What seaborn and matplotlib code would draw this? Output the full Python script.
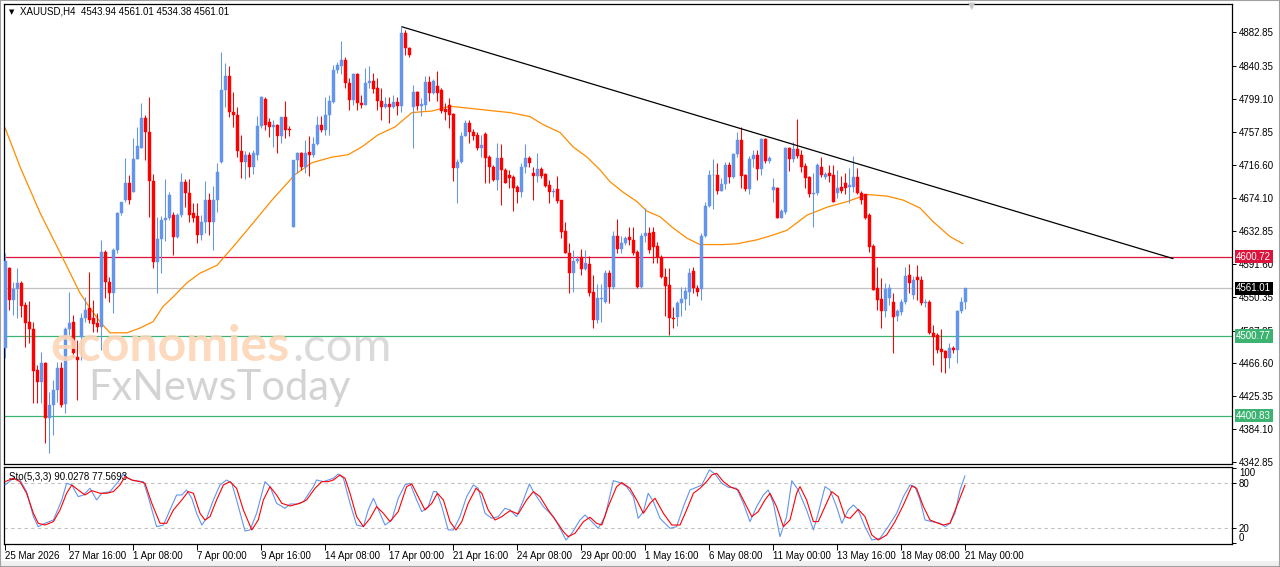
import numpy as np
import pandas as pd
import matplotlib
matplotlib.use("Agg")
import matplotlib.pyplot as plt
from matplotlib.patches import Rectangle
import seaborn as sns

# XAUUSD H4 candles (index 0 = 25 Mar 2026 00:00)
opens = [4486, 4587, 4546, 4560, 4568, 4540, 4519, 4510, 4458, 4443,
         4467, 4398, 4414, 4433, 4461, 4416, 4510, 4518, 4474, 4500,
         4524, 4536, 4524, 4517, 4512, 4607, 4569, 4555, 4609, 4656,
         4672, 4694, 4682, 4724, 4738, 4775, 4758, 4696, 4594, 4623,
         4647, 4650, 4653, 4626, 4653, 4695, 4681, 4656, 4652, 4628,
         4644, 4672, 4645, 4672, 4720, 4810, 4828, 4783, 4779, 4734,
         4720, 4729, 4714, 4729, 4765, 4799, 4770, 4764, 4767, 4752,
         4777, 4762, 4638, 4722, 4731, 4714, 4732, 4729, 4743, 4767,
         4760, 4779, 4795, 4836, 4840, 4848, 4819, 4798, 4830, 4794,
         4791, 4819, 4822, 4813, 4796, 4789, 4793, 4789, 4795, 4790,
         4882, 4863, 4789, 4808, 4790, 4792, 4820, 4807, 4815, 4811,
         4786, 4791, 4780, 4712, 4720, 4753, 4769, 4757, 4754, 4738,
         4755, 4726, 4714, 4697, 4725, 4710, 4704, 4701, 4689, 4682,
         4713, 4725, 4706, 4702, 4711, 4705, 4691, 4682, 4686, 4672,
         4633, 4606, 4580, 4595, 4600, 4585, 4592, 4556, 4521, 4548,
         4544, 4580, 4563, 4627, 4611, 4618, 4626, 4622, 4607, 4563,
         4627, 4631, 4632, 4614, 4600, 4575, 4565, 4524, 4525, 4543,
         4548, 4556, 4583, 4561, 4560, 4627, 4665, 4703, 4704, 4684,
         4692, 4716, 4701, 4730, 4748, 4703, 4686, 4724, 4729, 4711,
         4749, 4721, 4685, 4687, 4650, 4657, 4737, 4724, 4736, 4729,
         4715, 4701, 4680, 4681, 4714, 4701, 4706, 4703, 4681, 4689,
         4693, 4688, 4688, 4701, 4681, 4679, 4653, 4614, 4561, 4548,
         4533, 4549, 4544, 4526, 4531, 4544, 4578, 4553, 4575, 4572,
         4543, 4544, 4505, 4502, 4485, 4482, 4473, 4486, 4484, 4533,
         4543.94]
highs = [4605, 4588, 4569, 4587, 4570, 4544, 4545, 4519, 4465, 4481,
         4468, 4431, 4446, 4468, 4468, 4512, 4556, 4528, 4496, 4530,
         4550, 4582, 4546, 4530, 4622, 4609, 4575, 4612, 4657, 4670,
         4725, 4704, 4750, 4764, 4794, 4779, 4802, 4705, 4651, 4652,
         4698, 4682, 4657, 4656, 4706, 4699, 4699, 4668, 4668, 4653,
         4696, 4681, 4690, 4719, 4858, 4845, 4841, 4808, 4789, 4754,
         4734, 4733, 4735, 4778, 4803, 4801, 4775, 4773, 4768, 4777,
         4796, 4765, 4722, 4733, 4733, 4748, 4752, 4751, 4778, 4778,
         4802, 4804, 4842, 4846, 4872, 4852, 4826, 4832, 4832, 4804,
         4838, 4840, 4832, 4825, 4813, 4802, 4802, 4804, 4802, 4890,
         4886, 4865, 4817, 4809, 4800, 4828, 4828, 4824, 4834, 4813,
         4794, 4800, 4782, 4724, 4757, 4773, 4773, 4762, 4757, 4754,
         4757, 4729, 4716, 4744, 4743, 4712, 4710, 4704, 4691, 4719,
         4742, 4727, 4714, 4731, 4713, 4706, 4697, 4687, 4702, 4672,
         4645, 4618, 4609, 4602, 4611, 4609, 4601, 4578, 4566, 4566,
         4584, 4584, 4633, 4648, 4627, 4627, 4638, 4638, 4609, 4631,
         4662, 4638, 4638, 4619, 4603, 4587, 4587, 4538, 4545, 4563,
         4563, 4587, 4588, 4565, 4631, 4669, 4710, 4724, 4719, 4700,
         4720, 4720, 4731, 4758, 4764, 4705, 4727, 4735, 4735, 4750,
         4750, 4728, 4700, 4689, 4661, 4739, 4739, 4745, 4774, 4735,
         4719, 4702, 4706, 4719, 4726, 4707, 4716, 4716, 4710, 4702,
         4706, 4712, 4727, 4712, 4684, 4679, 4656, 4617, 4588, 4574,
         4568, 4566, 4555, 4535, 4548, 4588, 4592, 4576, 4590, 4576,
         4548, 4546, 4515, 4505, 4510, 4483, 4492, 4488, 4534, 4550,
         4561.01]
lows = [4473, 4534, 4528, 4524, 4525, 4487, 4492, 4417, 4417, 4417,
        4366, 4354, 4376, 4418, 4412, 4404, 4502, 4474, 4420, 4471,
        4519, 4517, 4506, 4506, 4483, 4549, 4544, 4530, 4605, 4653,
        4670, 4667, 4682, 4724, 4738, 4723, 4651, 4587, 4555, 4580,
        4620, 4647, 4603, 4624, 4651, 4663, 4645, 4645, 4618, 4622,
        4631, 4628, 4609, 4657, 4719, 4789, 4777, 4764, 4726, 4700,
        4699, 4701, 4705, 4723, 4763, 4760, 4751, 4739, 4731, 4744,
        4750, 4752, 4638, 4706, 4710, 4706, 4702, 4726, 4741, 4758,
        4754, 4754, 4794, 4832, 4830, 4813, 4785, 4792, 4785, 4788,
        4791, 4813, 4807, 4785, 4773, 4788, 4769, 4788, 4779, 4783,
        4855, 4852, 4738, 4785, 4778, 4785, 4796, 4805, 4796, 4782,
        4773, 4763, 4696, 4668, 4718, 4752, 4744, 4748, 4735, 4726,
        4694, 4694, 4696, 4685, 4666, 4694, 4687, 4658, 4668, 4676,
        4706, 4713, 4672, 4695, 4700, 4689, 4668, 4676, 4668, 4624,
        4606, 4555, 4556, 4593, 4578, 4584, 4551, 4511, 4517, 4519,
        4543, 4543, 4560, 4606, 4606, 4616, 4616, 4603, 4561, 4561,
        4619, 4606, 4593, 4593, 4574, 4526, 4502, 4511, 4514, 4526,
        4534, 4540, 4555, 4551, 4546, 4626, 4663, 4661, 4680, 4684,
        4686, 4694, 4700, 4726, 4687, 4684, 4679, 4714, 4697, 4704,
        4718, 4718, 4669, 4649, 4649, 4655, 4709, 4720, 4725, 4707,
        4687, 4676, 4638, 4678, 4701, 4699, 4695, 4669, 4675, 4681,
        4680, 4668, 4682, 4679, 4667, 4648, 4607, 4559, 4534, 4511,
        4525, 4540, 4480, 4520, 4528, 4541, 4555, 4548, 4546, 4540,
        4538, 4503, 4465, 4480, 4456, 4455, 4461, 4480, 4467, 4530,
        4534.38]
closes = [4595, 4546, 4560, 4568, 4539, 4517, 4510, 4457, 4443, 4467,
          4398, 4414, 4433, 4461, 4414, 4510, 4517, 4479, 4471, 4524,
          4534, 4521, 4516, 4512, 4607, 4569, 4555, 4609, 4656, 4670,
          4694, 4672, 4724, 4740, 4775, 4758, 4696, 4594, 4623, 4647,
          4650, 4678, 4626, 4653, 4695, 4681, 4653, 4650, 4628, 4644,
          4672, 4645, 4672, 4707, 4810, 4828, 4783, 4779, 4734, 4720,
          4729, 4714, 4731, 4765, 4801, 4767, 4764, 4767, 4752, 4777,
          4760, 4760, 4722, 4731, 4714, 4731, 4729, 4743, 4767, 4760,
          4779, 4796, 4836, 4842, 4848, 4819, 4798, 4830, 4794, 4791,
          4819, 4822, 4812, 4796, 4789, 4793, 4789, 4795, 4790, 4882,
          4863, 4855, 4808, 4790, 4793, 4820, 4807, 4822, 4807, 4784,
          4783, 4779, 4712, 4720, 4753, 4769, 4757, 4753, 4738, 4741,
          4725, 4714, 4697, 4725, 4710, 4694, 4700, 4687, 4682, 4713,
          4725, 4719, 4702, 4711, 4702, 4690, 4682, 4683, 4671, 4632,
          4606, 4580, 4595, 4598, 4585, 4593, 4555, 4521, 4549, 4549,
          4580, 4563, 4627, 4611, 4618, 4624, 4622, 4606, 4563, 4627,
          4631, 4609, 4613, 4600, 4575, 4564, 4524, 4522, 4543, 4548,
          4558, 4580, 4561, 4556, 4627, 4665, 4704, 4704, 4684, 4692,
          4716, 4701, 4730, 4748, 4702, 4686, 4724, 4729, 4711, 4749,
          4721, 4725, 4689, 4650, 4658, 4737, 4724, 4736, 4728, 4714,
          4700, 4679, 4681, 4716, 4703, 4705, 4702, 4669, 4687, 4684,
          4687, 4691, 4701, 4681, 4672, 4650, 4613, 4559, 4546, 4533,
          4560, 4561, 4525, 4532, 4544, 4577, 4568, 4572, 4572, 4543,
          4544, 4505, 4500, 4483, 4481, 4473, 4486, 4484, 4533, 4544,
          4561.01]

# moving average (orange), sampled along the curve: (candle index, price)
ma_pts = [(0, 4763), (3.75, 4714), (8.75, 4656), (13.75, 4606), (18.75, 4555),
          (21.25, 4536), (23.75, 4519), (26.25, 4505), (30.5, 4505), (33.75, 4511),
          (37, 4519), (39.5, 4538), (42, 4550), (45.5, 4568), (48.75, 4580),
          (53, 4590), (57, 4613), (60, 4631), (62, 4643), (66.75, 4672),
          (72.5, 4704), (76.75, 4719), (81.75, 4726), (85.75, 4729), (89.25, 4739),
          (93.25, 4754), (97.5, 4764), (101.75, 4782), (104.25, 4783), (106.75, 4784),
          (111.25, 4790), (115, 4788), (122.5, 4784), (126.25, 4782), (131.25, 4777),
          (134.5, 4767), (138.75, 4757), (142, 4739), (145.5, 4726), (148.75, 4710),
          (151.25, 4695), (154.5, 4682), (158, 4670), (160.5, 4658), (163.75, 4651),
          (167, 4637), (170.5, 4624), (173.75, 4616), (179.5, 4616), (183, 4617),
          (188, 4622), (192, 4628), (195.5, 4634), (200.5, 4653), (205.5, 4663),
          (210.5, 4670), (215.5, 4679), (220.5, 4677), (224.5, 4672), (228.75, 4662),
          (232, 4645), (236.25, 4626), (239.5, 4617)]

# descending trendline end points (candle index, price)
trend_x = [99.2, 292]
trend_y = [4890, 4598.4]

# horizontal levels: price, line colour, label box colour
level_prices = [4600.72, 4561.01, 4500.77, 4400.83]
level_colors = ['#DC143C', '#C0C0C0', '#3CB371', '#3CB371']
level_boxes = ['#DC143C', '#000000', '#3CB371', '#3CB371']

price_ticks = [4882.85, 4840.35, 4799.10, 4757.85, 4716.60, 4674.10, 4632.85,
               4591.60, 4550.35, 4507.85, 4466.60, 4425.35, 4384.10, 4342.85]

# Stochastic(5,3,3): main (blue) and signal (red), sampled (candle index, value)
sto_main = [(0, 77.8), (2.1, 86.7), (3.75, 84.4), (5.4, 68.9), (7.1, 35.6), (8.3, 22.2),
            (9.6, 25.8), (12.1, 31.1), (14.2, 57.8), (15.4, 80), (16.7, 77.8), (18.3, 62.2),
            (19.6, 64.4), (21.25, 73.3), (22.9, 57.8), (24.2, 66.7), (26.25, 68.9), (28.3, 82.2),
            (29.6, 92.4), (30.8, 86.7), (32.1, 83.5), (34.6, 82.2), (35.8, 62.2), (37.9, 22.2),
            (39.6, 24.4), (41.25, 44.4), (42.9, 64.4), (44.2, 64.4), (45.4, 71.1), (46.7, 60),
            (47.9, 40), (49.2, 24.4), (50.4, 33.3), (52.1, 57.8), (53.75, 77.8), (55.4, 84.4),
            (56.7, 80), (57.9, 57.8), (60, 16.4), (61.25, 17.8), (62.9, 40), (65, 82.2),
            (66.25, 75.5), (67.9, 53.3), (70, 46.7), (71.25, 52.4), (72.9, 52.4), (74.6, 55.5),
            (77.1, 75.5), (77.9, 84.4), (79.6, 82.2), (82.1, 86.7), (83.3, 92.4), (84.6, 86.7),
            (86.25, 53.3), (87.9, 24.4), (89.6, 22.2), (90.8, 44.4), (92.1, 60), (93.75, 40),
            (95, 24.4), (96.7, 31.1), (98.3, 60), (100, 77.8), (101.25, 80), (102.9, 57.8),
            (104.2, 42.2), (105.8, 48.9), (107.1, 68.9), (107.9, 68.9), (109.2, 48.9), (110.8, 17.8),
            (112.1, 17.8), (113.75, 35.6), (115.4, 62.2), (117.1, 77.8), (118.3, 73.3), (120, 40),
            (121.7, 33.3), (123.3, 35.6), (125, 46.7), (126.25, 44.4), (127.9, 35.6), (129.6, 57.8),
            (131.1, 79.1), (132.1, 68.9), (134.6, 48.9), (137.1, 35.6), (138.75, 20), (140.25, 4.4),
            (141.7, 13.3), (143.75, 31.1), (145, 37.8), (146.7, 28.9), (148.3, 20), (150, 35.6),
            (152.1, 83.5), (153.75, 80.9), (155.4, 75.5), (157.1, 62.2), (158.3, 33.3), (159.6, 42.2),
            (160.8, 66.7), (162.1, 55.5), (163.75, 33.3), (166.25, 20), (167.9, 22.2), (169.6, 48.9),
            (171.25, 71.1), (172.9, 74.7), (174.2, 77.8), (176.1, 97.8), (177.5, 92.4), (179.2, 80),
            (180.8, 74.7), (182.9, 73.3), (184.6, 53.3), (186.25, 28.9), (187.9, 48.9), (189.6, 64.4),
            (190.8, 71.1), (192.1, 53.3), (193.75, 8.9), (195.4, 35.6), (196.7, 83.5), (198.3, 71.1),
            (200.4, 44.4), (202.1, 17.8), (203.3, 40), (205, 75.5), (206.25, 71.1), (207.9, 48.9),
            (209.2, 26.7), (210.8, 44.4), (212.1, 51.1), (213.3, 44.4), (215, 22.2), (216.7, 4.4),
            (218.75, 6.7), (220.8, 22.2), (222.9, 40), (224.6, 62.2), (226.25, 77.8), (227.5, 75.5),
            (228.75, 57.8), (230, 31.1), (231.7, 28.9), (233.75, 26.7), (235, 22.2), (236.25, 26.7),
            (237.5, 40), (238.75, 71.1), (240, 90.03)]
sto_signal = [(0, 82.2), (2.1, 86.7), (3.75, 82.2), (5.4, 66.7), (7.1, 40), (8.3, 26.7),
              (10, 24.4), (12.1, 28.9), (13.75, 44.4), (15.4, 66.7), (16.7, 77.8), (18.3, 71.1),
              (20, 64.4), (21.7, 70.2), (23.75, 66.7), (25.4, 66.7), (27.1, 68.9), (28.75, 77.8),
              (30, 88.9), (31.7, 84.4), (33.75, 82.2), (35, 80), (36.7, 53.3), (38.75, 26.7),
              (40.4, 26.7), (42.1, 44.4), (44.2, 57.8), (45.8, 68.9), (47.1, 66.7), (48.75, 40),
              (50, 31.1), (51.25, 35.6), (52.9, 57.8), (54.6, 77.8), (56.25, 82.2), (57.9, 73.3),
              (59.6, 44.4), (61.7, 17.8), (63.3, 31.1), (64.6, 57.8), (66.25, 75.5), (67.9, 64.4),
              (69.2, 53.3), (71.25, 49.8), (73.75, 53.3), (75.4, 57.8), (77.5, 73.3), (79.2, 82.2),
              (80.8, 82.2), (82.1, 84.4), (83.75, 91.1), (85, 86.7), (86.25, 66.7), (87.9, 35.6),
              (89.6, 22.2), (91.25, 33.3), (92.9, 48.9), (94.6, 40), (96.25, 28.9), (98.3, 42.2),
              (100.4, 75.5), (101.7, 79.1), (103.3, 62.2), (105, 44.4), (106.7, 53.3), (108.1, 66.7),
              (109.6, 57.8), (111.25, 28.9), (112.75, 17.8), (114.2, 28.9), (115.8, 53.3), (117.75, 73.3),
              (119.2, 66.7), (120.8, 44.4), (122.5, 31.1), (124.2, 35.6), (126.25, 43.5), (128.3, 39.1),
              (130.4, 57.8), (132.1, 68.9), (133.75, 62.2), (135.8, 44.4), (137.9, 28.9), (139.6, 15.5),
              (140.8, 8.9), (142.5, 13.3), (144.6, 28.9), (146.25, 34.7), (147.9, 26.7), (149.2, 24.4),
              (150.8, 48.9), (152.9, 75.5), (154.2, 80.9), (156.25, 73.3), (157.9, 57.8), (159.6, 40),
              (161.25, 53.3), (162.5, 60), (164.6, 40), (166.7, 24.4), (168.75, 24.4), (170.4, 44.4),
              (172.1, 66.7), (173.75, 73.3), (175.4, 82.2), (176.7, 91.1), (177.9, 93.3), (179.6, 82.2),
              (181.25, 75.5), (183.3, 71.1), (185, 53.3), (186.7, 35.6), (188.3, 42.2), (190, 57.8),
              (191.25, 66.7), (192.9, 48.9), (194.6, 22.2), (196.25, 31.1), (197.9, 66.7), (198.75, 75.5),
              (200.4, 57.8), (202.1, 28.9), (203.3, 28.9), (205, 48.9), (206.7, 68.9), (208.3, 62.2),
              (210, 35.6), (211.25, 33.3), (213.3, 45.3), (215, 35.6), (216.7, 11.1), (218.3, 4.4),
              (220.4, 11.1), (222.5, 28.9), (224.6, 51.1), (226.7, 76.4), (227.9, 73.3), (229.6, 48.9),
              (231.25, 31.1), (232.9, 27.6), (234.6, 24.4), (236.25, 26.7), (237.9, 48.9), (240, 77.57)]

date_pos = [0, 16, 32, 48, 64, 80, 96, 112, 128, 144, 160, 176, 192, 208, 224, 240]
date_labels = ['25 Mar 2026', '27 Mar 16:00', '1 Apr 08:00', '7 Apr 00:00', '9 Apr 16:00',
               '14 Apr 08:00', '17 Apr 00:00', '21 Apr 16:00', '24 Apr 08:00', '29 Apr 00:00',
               '1 May 16:00', '6 May 08:00', '11 May 00:00', '13 May 16:00', '18 May 08:00',
               '21 May 00:00']

BULL = '#6495ED'
BEAR = '#FF0000'

df = pd.DataFrame({'open': opens, 'high': highs, 'low': lows, 'close': closes})
df['idx'] = np.arange(len(df))
df['color'] = np.where(df['close'] >= df['open'], BULL, BEAR)
ma = pd.DataFrame(ma_pts, columns=['idx', 'ma'])
k = pd.DataFrame(sto_main, columns=['idx', 'val'])
d = pd.DataFrame(sto_signal, columns=['idx', 'val'])

sns.set_theme(style="white")
plt.rcParams['font.family'] = ['Liberation Sans', 'DejaVu Sans']

W, H = 1280, 567
fig = plt.figure(figsize=(W / 100, H / 100), dpi=100)
fig.patch.set_facecolor('white')
ax = fig.add_axes([4 / W, 1 - 464 / H, 1228 / W, 460 / H])
ax2 = fig.add_axes([4 / W, 1 - 544 / H, 1228 / W, 77.3 / H])

# price pane
for p, lc in zip(level_prices, level_colors):
    ax.axhline(p, color=lc, lw=0.9, zorder=1)
ax.vlines(df['idx'], df['low'], df['high'], colors=df['color'], lw=0.75, zorder=3)
ax.bar(df['idx'], (df['close'] - df['open']).abs(), bottom=df[['open', 'close']].min(axis=1),
       width=0.75, color=df['color'], edgecolor=df['color'], linewidth=0.3, zorder=3)
sns.lineplot(data=ma, x='idx', y='ma', ax=ax, color='#FF8C00', lw=0.9, estimator=None, zorder=2)
ax.plot(trend_x, trend_y, color='black', lw=0.9, zorder=4)

ax.set_xlim(-0.25, 306.75)
ax.set_ylim(4340.0, 4918.6)
ax.set_xticks([])
ax.set_xlabel('')
ax.set_ylabel('')
ax.yaxis.tick_right()
ax.set_yticks(price_ticks)
ax.set_yticklabels([f"{t:.2f}" for t in price_ticks])
ax.tick_params(axis='y', which='both', right=True, length=3, width=0.7, pad=2,
               labelsize=7, colors='black')
for s in ax.spines.values():
    s.set_color('black')
    s.set_linewidth(0.9)

for p, bc in zip(level_prices, level_boxes):
    ax.text(1.0035, p, f"{p:.2f}", transform=ax.get_yaxis_transform(), ha='left', va='center',
            fontsize=7, color='white', zorder=10, clip_on=False,
            bbox=dict(boxstyle='square,pad=0.18', facecolor=bc, edgecolor='none'))

# stochastic pane
for lv in (20, 80):
    ax2.axhline(lv, color='#C0C0C0', lw=0.8, ls=(0, (3, 3)), zorder=1)
sns.lineplot(data=k, x='idx', y='val', ax=ax2, color=BULL, lw=0.8, estimator=None, zorder=3)
sns.lineplot(data=d, x='idx', y='val', ax=ax2, color=BEAR, lw=0.8, estimator=None, zorder=4)
ax2.set_xlim(-0.25, 306.75)
ax2.set_ylim(-0.9, 102.1)
ax2.set_xlabel('')
ax2.set_ylabel('')
ax2.yaxis.tick_right()
ax2.set_yticks([0, 20, 80, 100])
ax2.set_yticklabels(['0', '20', '80', '100'])
ylabs = ax2.get_yticklabels()
ylabs[0].set_va('bottom')
ylabs[3].set_va('top')
ax2.tick_params(axis='y', length=3, width=0.7, pad=2, labelsize=7, colors='black')
ax2.set_xticks(date_pos)
ax2.set_xticklabels(date_labels, ha='left')
ax2.tick_params(axis='x', bottom=True, length=4, width=0.7, pad=1, labelsize=7, colors='black')
for s in ax2.spines.values():
    s.set_color('black')
    s.set_linewidth(0.9)
ax2.text(0.004, 0.93, "Sto(5,3,3) 90.0278 77.5693", transform=ax2.transAxes,
         ha='left', va='top', fontsize=7, color='black')

# header
fig.text(12 / W, 1 - 12 / H, '\u25BC', fontsize=5, ha='center', va='center',
         family=['DejaVu Sans'], color='black')
fig.text(20 / W, 1 - 12 / H, "XAUUSD,H4  4543.94 4561.01 4534.38 4561.01",
         fontsize=7, ha='left', va='center', color='black')
fig.text(972 / W, 1 - 6 / H, '\u25BC', fontsize=7, ha='center', va='center',
         family=['DejaVu Sans'], color='#C8C8C8')

# watermark
fig.text(50 / W, 1 - 361 / H, "economies", fontsize=36, fontweight='bold', family=['Lato', 'DejaVu Sans'],
         color='#FDD5B6', alpha=0.9, ha='left', va='baseline', zorder=20)
fig.text(292 / W, 1 - 361 / H, ".com", fontsize=34, family=['Lato', 'DejaVu Sans'],
         color='#D6D6D6', alpha=0.9, ha='left', va='baseline', zorder=20)
fig.text(88 / W, 1 - 400 / H, "FxNewsToday", fontsize=30, family=['Lato', 'DejaVu Sans'],
         color='#CFCFCF', alpha=0.9, ha='left', va='baseline', zorder=20)

# window frame
fig.add_artist(Rectangle((0, 0), 1, 6 / H, transform=fig.transFigure, facecolor='#F0F0F0',
                         edgecolor='none', zorder=0))
fig.add_artist(Rectangle((0, 0), 1, 1, transform=fig.transFigure, facecolor='none',
                         edgecolor='#A0A0A0', lw=1.5, zorder=30))

fig.savefig('out.png', dpi=100)
